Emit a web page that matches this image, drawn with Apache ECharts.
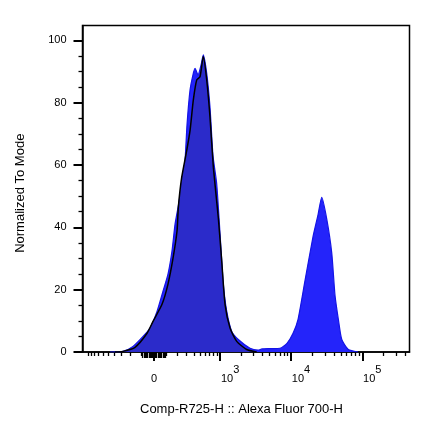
<!DOCTYPE html>
<html>
<head>
<meta charset="utf-8">
<script src="https://cdn.jsdelivr.net/npm/echarts@6/dist/echarts.min.js"></script>
<style>
  html, body { margin: 0; padding: 0; background: #fff; }
  #histChart { width: 426px; height: 441px; }
</style>
</head>
<body>
<div id="histChart"></div>
<script>
// biex display scale: position in decades, asinh with linear width 240
var BIEX_W = 240;
function biex(v) { return Math.asinh(v / BIEX_W) / Math.LN10; }

// x tick values (fluorescence) and their labels
var xMajorValues = [0, 1000, 10000, 100000];
var xMajorLabels = ['0', '10^3', '10^4', '10^5'];
var xMinorValues = [
  -1000, -900, -800, -700, -600, -500, -400, -300, -200, -100,
  100, 200, 300, 400, 500, 600, 700, 800, 900,
  2000, 3000, 4000, 5000, 6000, 7000, 8000, 9000,
  20000, 30000, 40000, 50000, 60000, 70000, 80000, 90000,
  200000, 300000, 400000
];
// dense linear ticks round zero
var xNearZeroValues = [-90, -80, -70, -60, -50, -40, -30, -20, -10,
  10, 20, 30, 40, 50, 60, 70, 80, 90];
var yMajorValues = [0, 20, 40, 60, 80, 100];
var yMinorValues = [5, 10, 15, 25, 30, 35, 45, 50, 55, 65, 70, 75, 85, 90, 95];

// sample A (bright blue): bin position on display scale, % of mode
var posA = [-0.617, -0.435, -0.295, -0.154, -0.056, 0.042, 0.126, 0.196, 0.252, 0.295,
  0.337, 0.393, 0.435, 0.463, 0.505, 0.547, 0.575, 0.617, 0.659, 0.691,
  0.739, 0.785, 0.827, 0.879, 0.926, 0.972, 1.020, 1.090, 1.182, 1.346,
  1.459, 1.515, 1.627, 1.767, 1.865, 1.950, 2.020, 2.118, 2.230, 2.300,
  2.352, 2.422, 2.492, 2.539, 2.585, 2.633, 2.725, 2.861];
var pctA = [0, 0.2, 1.8, 5, 7.7, 13, 19.5, 25, 32.4, 41,
  46.4, 54, 61.5, 73, 84, 89, 91, 88.9, 92, 95.3,
  89.4, 78.6, 63, 54, 37.9, 21.8, 13, 6.6, 4, 1.2,
  0.6, 1, 1.1, 1.2, 2.8, 6, 10.5, 23, 37, 44,
  49.6, 42.7, 31.9, 18, 10.5, 4, 0.8, 0];

// sample B (dark, black outline)
var posB = [-0.547, -0.435, -0.266, -0.098, -0.014, 0.112, 0.196, 0.266, 0.323, 0.341,
  0.388, 0.459, 0.505, 0.551, 0.599, 0.645, 0.691, 0.739, 0.785, 0.832,
  0.902, 0.950, 0.996, 1.066, 1.160, 1.300, 1.440];
var pctB = [0, 0.2, 1.5, 6, 9.8, 15.3, 21.8, 30, 38.9, 46.4,
  56, 64.7, 71, 80.8, 87.3, 88.3, 94.8, 87.3, 75.4, 59.3,
  43, 29, 15.3, 7.7, 3.4, 0.8, 0];

function pairs(xs, ys) {
  return xs.map(function (x, i) { return [x, ys[i]]; });
}

var xMin = -1.003, xMax = 3.583;
var yMin = 0, yMax = 104.75;
var font = 'Liberation Sans';

// extra bottom axis that only draws a set of ticks
function tickAxis(values, len, width) {
  return {
    type: 'value', min: xMin, max: xMax, position: 'bottom',
    axisLine: { show: false, onZero: false },
    axisTick: { customValues: values.map(biex), length: len, lineStyle: { color: '#000', width: width } },
    axisLabel: { show: false },
    splitLine: { show: false }
  };
}

var chart = echarts.init(document.getElementById('histChart'));
chart.setOption({
  animation: false,
  backgroundColor: '#fff',
  grid: {
    left: 82.5, right: 16.5, top: 25.5, bottom: 89,
    show: true, borderColor: '#000', borderWidth: 1.5,
    outerBoundsMode: 'none'
  },
  xAxis: [
    {
      type: 'value', min: xMin, max: xMax, position: 'bottom',
      name: 'Comp-R725-H :: Alexa Fluor 700-H',
      nameLocation: 'middle', nameGap: 51,
      nameTextStyle: { color: '#000', fontSize: 13, fontFamily: font, padding: [0, 9, 0, 0] },
      axisLine: { onZero: false, lineStyle: { color: '#000', width: 1.5 } },
      axisTick: { customValues: xMajorValues.map(biex), length: 9, lineStyle: { color: '#000', width: 2 } },
      axisLabel: {
        customValues: xMajorValues.map(biex),
        margin: 16, color: '#000',
        formatter: function (val) {
          var best = 0;
          for (var i = 1; i < xMajorValues.length; i++) {
            if (Math.abs(biex(xMajorValues[i]) - val) < Math.abs(biex(xMajorValues[best]) - val)) best = i;
          }
          var lab = xMajorLabels[best];
          if (lab.indexOf('^') < 0) return '{z|' + lab + '}';
          var parts = lab.split('^');
          return '{b|' + parts[0] + '}{s|' + parts[1] + '}';
        },
        rich: {
          z: { fontSize: 11, fontFamily: font, color: '#000', lineHeight: 12, padding: [9, 0, 0, 0] },
          b: { fontSize: 11, fontFamily: font, color: '#000', lineHeight: 12, padding: [9, 0, 0, 20] },
          s: { fontSize: 11, fontFamily: font, color: '#000', lineHeight: 12, padding: [0, 0, 9, 0] }
        }
      },
      splitLine: { show: false }
    },
    tickAxis(xMinorValues, 4, 1.3),
    tickAxis(xNearZeroValues, 6, 1.3)
  ],
  yAxis: [
    {
      type: 'value', min: yMin, max: yMax, position: 'left',
      name: 'Normalized To Mode',
      nameLocation: 'middle', nameGap: 56,
      nameTextStyle: { color: '#000', fontSize: 13, fontFamily: font, padding: [0, 9, 0, 0] },
      axisLine: { onZero: false, lineStyle: { color: '#000', width: 1.5 } },
      axisTick: { customValues: yMajorValues, length: 9, lineStyle: { color: '#000', width: 2 } },
      axisLabel: { customValues: yMajorValues, margin: 16, color: '#000', fontSize: 11, fontFamily: font },
      splitLine: { show: false }
    },
    {
      type: 'value', min: yMin, max: yMax, position: 'left',
      axisLine: { show: false, onZero: false },
      axisTick: { show: true, customValues: yMinorValues, length: 4, lineStyle: { color: '#000', width: 1.3 } },
      axisLabel: { show: false },
      splitLine: { show: false }
    }
  ],
  series: [
    {
      name: 'A', type: 'line', data: pairs(posA, pctA),
      smooth: 0.2, symbol: 'none',
      lineStyle: { color: '#1414e6', width: 1.2 },
      areaStyle: { color: '#2424fa', opacity: 1 },
      z: 2
    },
    {
      name: 'B', type: 'line', data: pairs(posB, pctB),
      smooth: 0.2, symbol: 'none',
      lineStyle: { color: '#000', width: 1.5 },
      areaStyle: { color: '#2b2bca', opacity: 1 },
      z: 3
    }
  ]
});
</script>
</body>
</html>
